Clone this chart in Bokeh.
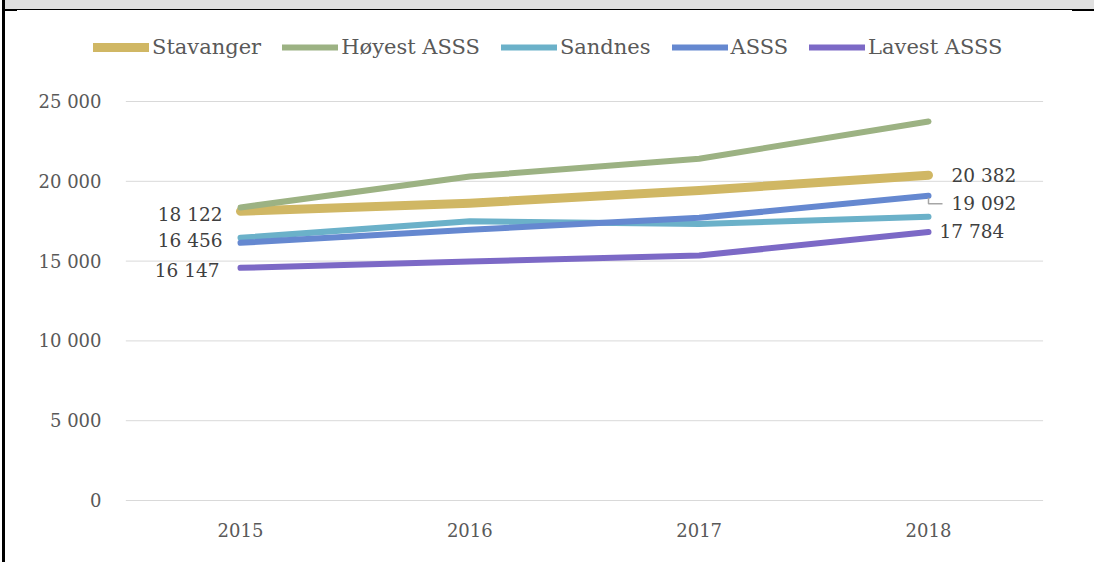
from bokeh.plotting import figure
from bokeh.models import (ColumnDataSource, Range1d, FixedTicker,
                          Legend, LegendItem, InlineStyleSheet)
from bokeh.core.properties import value
from bokeh.embed import file_html
from bokeh.resources import INLINE

# ---- data ----
years = ["2015", "2016", "2017", "2018"]
stavanger = [18122, 18630, 19420, 20382]
hoyest = [18360, 20300, 21410, 23750]
sandnes = [16456, 17500, 17320, 17784]
asss = [16147, 16960, 17710, 19092]
lavest = [14580, 14975, 15350, 16820]
series_names = ["Stavanger", "Høyest ASSS", "Sandnes", "ASSS", "Lavest ASSS"]
y_ticks = [0, 5000, 10000, 15000, 20000, 25000]
y_tick_labels = ["0", "5 000", "10 000", "15 000", "20 000", "25 000"]

# labelled points: (series, year index)
label_series = ["Stavanger", "Sandnes", "ASSS", "Stavanger", "ASSS", "Sandnes"]
label_year_idx = [0, 0, 0, 3, 3, 3]

# ---- styles ----
colors = ["#D0B764", "#9CB283", "#6BB1C9", "#6588D0", "#7C69C6"]
widths = [9, 6, 6, 6, 6]
label_x_off = [-18, -18, -21, 23, 23, 11]
label_y_off = [3, 3, 28, 0, 8, 15]
label_align = ["right", "right", "right", "left", "left", "left"]
FONT = "DejaVu Serif"

series_values = dict(zip(series_names, [stavanger, hoyest, sandnes, asss, lavest]))
xi = list(range(len(years)))  # category positions on the x scale

# ---- layout geometry (pixels) ----
W, H = 1094, 562
FRAME_LEFT, FRAME_RIGHT = 88, 1043
FIRST_CAT_PX, LAST_CAT_PX = 240, 928
FRAME_TOP, ZERO_PX, TOP_TICK_PX, FRAME_BOTTOM = 20, 500, 101, 501

u_y = (y_ticks[-1] - y_ticks[0]) / (ZERO_PX - TOP_TICK_PX)
y_start = y_ticks[0] - (FRAME_BOTTOM - ZERO_PX) * u_y
y_end = y_ticks[-1] + (TOP_TICK_PX - FRAME_TOP) * u_y
u_x = (xi[-1] - xi[0]) / (LAST_CAT_PX - FIRST_CAT_PX)
x_start = xi[0] - (FIRST_CAT_PX - FRAME_LEFT) * u_x
x_end = xi[-1] + (FRAME_RIGHT - LAST_CAT_PX) * u_x

p = figure(width=W, height=H, output_backend="svg", toolbar_location=None,
           x_range=Range1d(x_start, x_end), y_range=Range1d(y_start, y_end),
           min_border_left=FRAME_LEFT, min_border_right=W - FRAME_RIGHT,
           min_border_top=FRAME_TOP, min_border_bottom=H - FRAME_BOTTOM)
p.outline_line_color = None
p.background_fill_color = "white"
p.border_fill_color = "white"

# horizontal grid lines spanning the category band only
p.segment(x0=[xi[0] - 0.5] * len(y_ticks), x1=[xi[-1] + 0.5] * len(y_ticks),
          y0=y_ticks, y1=y_ticks, line_color="#D9D9D9", line_width=1, level="underlay")

renderers = []
for name, c, w in zip(series_names, colors, widths):
    src = ColumnDataSource(dict(x=xi, y=series_values[name]))
    r = p.line("x", "y", source=src, line_color=c, line_width=w, line_cap="round",
               line_join="round")
    renderers.append(r)

# leader line of the "19 092" label (pixel offsets from its data point)
lead_pt = (xi[label_year_idx[4]], series_values[label_series[4]][label_year_idx[4]])
p.line(x=[lead_pt[0], lead_pt[0], lead_pt[0] + 14 * u_x],
       y=[lead_pt[1] - 2 * u_y, lead_pt[1] - 8 * u_y, lead_pt[1] - 8 * u_y],
       line_color="#A6A6A6", line_width=1.5)

# data labels
lx = [xi[i] for i in label_year_idx]
ly = [series_values[s][i] for s, i in zip(label_series, label_year_idx)]
ltxt = [f"{v:,}".replace(",", " ") for v in ly]
lsrc = ColumnDataSource(dict(x=lx, y=ly, t=ltxt, xo=label_x_off, yo=label_y_off, al=label_align))
p.text("x", "y", text="t", source=lsrc, x_offset="xo", y_offset="yo", text_align="al",
       text_baseline="middle", text_font=value(FONT), text_font_size="18.5px",
       text_color="#404040")

# axes
for ax in (p.xaxis, p.yaxis):
    ax.axis_line_color = None
    ax.major_tick_line_color = None
    ax.minor_tick_line_color = None
    ax.major_tick_out = 0
    ax.major_tick_in = 0
    ax.major_label_text_font = FONT
    ax.major_label_text_font_size = "18px"
    ax.major_label_text_color = "#595959"
p.xaxis.ticker = FixedTicker(ticks=xi)
p.xaxis.major_label_overrides = {i: y for i, y in zip(xi, years)}
p.xaxis.major_label_standoff = 21
p.yaxis.ticker = FixedTicker(ticks=y_ticks)
p.yaxis.major_label_overrides = {t: l for t, l in zip(y_ticks, y_tick_labels)}
p.yaxis.major_label_standoff = -13

p.xgrid.grid_line_color = None
p.ygrid.grid_line_color = None

# legend
items = [LegendItem(label=n, renderers=[r]) for n, r in zip(series_names, renderers)]
legend = Legend(items=items, orientation="horizontal",
                location=(93 - FRAME_LEFT, FRAME_BOTTOM - 59),
                padding=0, margin=0, spacing=21, label_standoff=3,
                glyph_width=56, glyph_height=20, label_height=20,
                label_text_font=FONT, label_text_font_size="21px",
                label_text_color="#595959", border_line_color=None,
                background_fill_alpha=0)
p.add_layout(legend, "center")

# page frame decoration (grey band and black borders) as CSS
css = """
:host::after {
  content: "";
  position: absolute; left: 0; top: 0; width: 1094px; height: 562px;
  pointer-events: none; z-index: 100;
  background:
    linear-gradient(#000, #000) 2px 0 / 3px 562px no-repeat,
    linear-gradient(#000, #000) 3px 9px / 14px 2px no-repeat,
    linear-gradient(#000, #000) 1072px 9px / 22px 2px no-repeat,
    linear-gradient(#000, #000) 3px 9px / 1091px 1px no-repeat,
    linear-gradient(#E0E0E0, #E0E0E0) 5px 0 / 1089px 9px no-repeat;
}
"""
p.stylesheets = [InlineStyleSheet(css=css)]

open("out.html", "w").write(file_html(p, INLINE))
